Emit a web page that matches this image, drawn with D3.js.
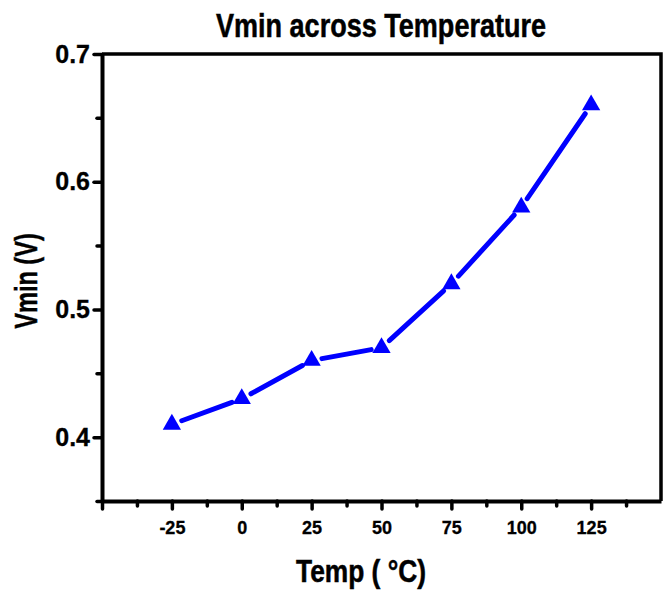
<!DOCTYPE html>
<html><head><meta charset="utf-8">
<script src="https://cdn.jsdelivr.net/npm/d3@7"></script>
<style>
html,body{margin:0;padding:0;background:#fff;}
svg{display:block;font-family:"Liberation Sans",Arial,sans-serif;}
</style></head>
<body>
<svg id="chart" width="665" height="594"></svg>
<script>
const temps = [-25, 0, 25, 50, 75, 100, 125];
const vmin = [0.41, 0.43, 0.46, 0.47, 0.52, 0.58, 0.66];
const xMajor = [-50, -25, 0, 25, 50, 75, 100, 125];
const xLabels = ["", "-25", "0", "25", "50", "75", "100", "125"];
const xMinor = [-37.5, -12.5, 12.5, 37.5, 62.5, 87.5, 112.5, 137.5];
const yMajor = [0.4, 0.5, 0.6, 0.7];
const yLabels = ["0.4", "0.5", "0.6", "0.7"];
const yMinor = [0.35, 0.45, 0.55, 0.65];
const title = "Vmin across Temperature";
const xTitle = "Temp ( °C)";
const yTitle = "Vmin (V)";

const svg = d3.select("#chart");
const x = d3.scaleLinear().domain([-50, 150]).range([102, 661]);
const y = d3.scaleLinear().domain([0.35, 0.7]).range([501, 54]);
const blue = "#0000ff";

// frame top/right
svg.append("path")
  .attr("d", `M${x(-50)},${y(0.7)}H${x(150)}V${y(0.35)}`)
  .attr("fill", "none").attr("stroke", "#000").attr("stroke-width", 3.5);

function styleAxis(g){
  g.select(".domain").attr("stroke", "#000").attr("stroke-width", 4);
  g.selectAll(".tick line").attr("stroke", "#000").attr("stroke-width", 3.5).attr("stroke-linecap", "round");
}

// x axis
const gx = svg.append("g").attr("transform", `translate(0,${y(0.35)})`);
gx.call(d3.axisBottom(x).tickValues(xMajor).tickSize(8).tickSizeOuter(0).tickPadding(12)
  .tickFormat((d, i) => xLabels[i]));
styleAxis(gx);
gx.selectAll(".tick text").attr("font-size", 18).attr("font-weight", "bold").attr("fill", "#000")
  .attr("stroke", "#000").attr("stroke-width", 0.3);
const gxm = svg.append("g").attr("transform", `translate(0,${y(0.35)})`);
gxm.call(d3.axisBottom(x).tickValues(xMinor).tickSize(5).tickFormat(""));
gxm.select(".domain").remove();
styleAxis(gxm);

// y axis
const gy = svg.append("g").attr("transform", `translate(${x(-50)},0)`);
gy.call(d3.axisLeft(y).tickValues(yMajor).tickSize(8).tickSizeOuter(0).tickPadding(4)
  .tickFormat((d, i) => yLabels[i]));
styleAxis(gy);
gy.selectAll(".tick text").attr("font-size", 25).attr("font-weight", "bold").attr("fill", "#000")
  .attr("stroke", "#000").attr("stroke-width", 0.3);
const gym = svg.append("g").attr("transform", `translate(${x(-50)},0)`);
gym.call(d3.axisLeft(y).tickValues(yMinor).tickSize(5).tickFormat(""));
gym.select(".domain").remove();
styleAxis(gym);

// line segments with gaps at markers
const pts = temps.map((t, i) => [x(t), y(vmin[i])]);
const gap = 10.5;
const segs = [];
for (let i = 0; i < pts.length - 1; i++) {
  const [x0, y0] = pts[i], [x1, y1] = pts[i + 1];
  const dx = x1 - x0, dy = y1 - y0, L = Math.hypot(dx, dy);
  const ux = dx / L, uy = dy / L;
  segs.push([[x0 + ux * gap, y0 + uy * gap], [x1 - ux * gap, y1 - uy * gap]]);
}
svg.append("g").selectAll("line").data(segs).join("line")
  .attr("x1", d => d[0][0]).attr("y1", d => d[0][1])
  .attr("x2", d => d[1][0]).attr("y2", d => d[1][1])
  .attr("stroke", blue).attr("stroke-width", 5).attr("stroke-linecap", "round");

// markers
svg.append("g").selectAll("path").data(temps).join("path")
  .attr("d", d3.symbol().type(d3.symbolTriangle).size(145))
  .attr("transform", (d, i) => `translate(${x(d)},${y(vmin[i])})`)
  .attr("fill", blue);

// titles
svg.append("text").text(title)
  .attr("transform", "translate(381,37) scale(0.82,1)")
  .attr("text-anchor", "middle").attr("font-size", 33).attr("font-weight", "bold")
  .attr("stroke", "#000").attr("stroke-width", 0.5);
svg.append("text").text(xTitle)
  .attr("transform", "translate(361,582) scale(0.85,1)")
  .attr("text-anchor", "middle").attr("font-size", 31).attr("font-weight", "bold")
  .attr("stroke", "#000").attr("stroke-width", 0.5);
svg.append("text").text(yTitle)
  .attr("transform", "translate(37,281) rotate(-90) scale(0.76,1)")
  .attr("text-anchor", "middle").attr("font-size", 31).attr("font-weight", "bold")
  .attr("stroke", "#000").attr("stroke-width", 0.5);
</script>
</body></html>
